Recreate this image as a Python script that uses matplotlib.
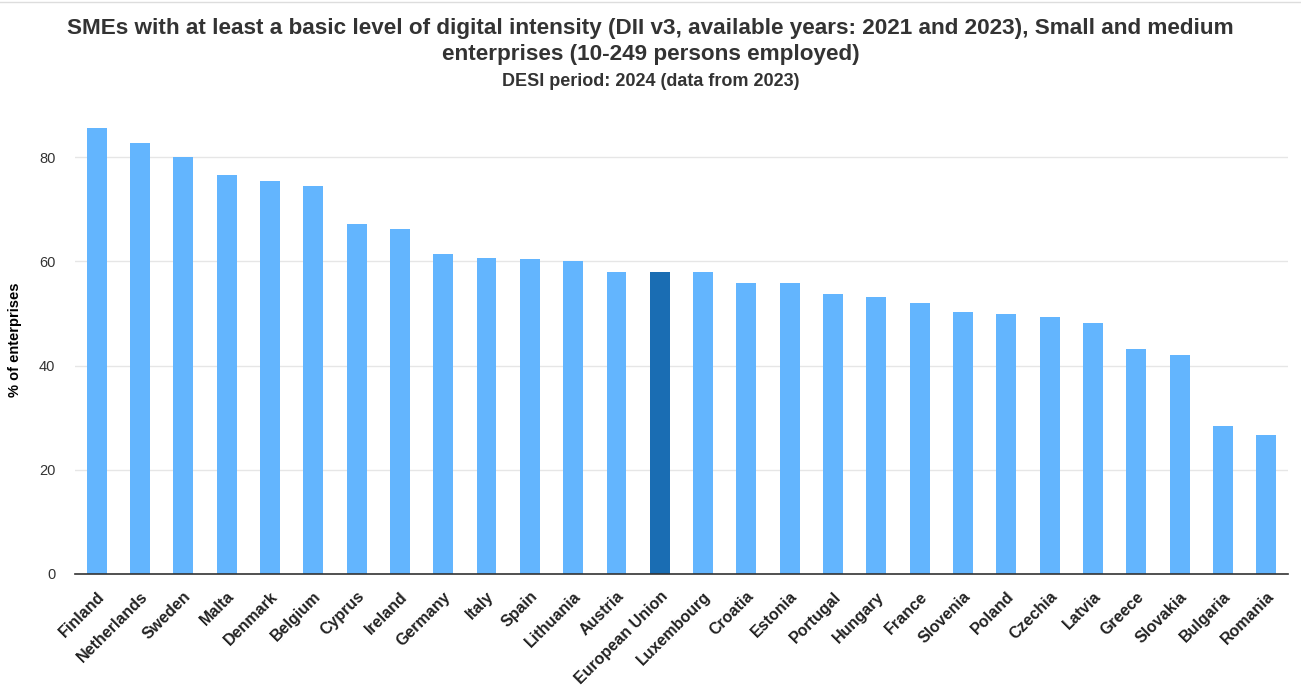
import numpy as np
import matplotlib
import matplotlib.pyplot as plt

matplotlib.rc("font", family=["Liberation Sans", "DejaVu Sans"])

countries = [
    "Finland", "Netherlands", "Sweden", "Malta", "Denmark", "Belgium",
    "Cyprus", "Ireland", "Germany", "Italy", "Spain", "Lithuania", "Austria",
    "European Union", "Luxembourg", "Croatia", "Estonia", "Portugal",
    "Hungary", "France", "Slovenia", "Poland", "Czechia", "Latvia", "Greece",
    "Slovakia", "Bulgaria", "Romania",
]
values = [
    85.6, 82.7, 80.0, 76.6, 75.5, 74.5, 67.3, 66.2, 61.4, 60.7, 60.4, 60.0,
    57.9, 57.9, 57.9, 55.9, 55.9, 53.7, 53.2, 52.1, 50.2, 50.0, 49.3, 48.2,
    43.2, 42.1, 28.4, 26.6,
]
highlight = "European Union"
y_ticks = [0, 20, 40, 60, 80]

light = "#63b5fe"
dark = "#1a6db3"
colors = [dark if c == highlight else light for c in countries]

fig = plt.figure(figsize=(13.01, 6.94), dpi=100)
ax = fig.add_axes([0.0576, 0.1736, 0.9324, 0.6744])

x = np.arange(len(countries))
ax.bar(x, values, width=0.46, color=colors, zorder=3)

ax.set_xlim(-0.5, len(countries) - 0.5)
ax.set_ylim(0, 90)
ax.set_yticks(y_ticks)
ax.set_yticklabels([str(t) for t in y_ticks], color="#333333", fontsize=10.5)
ax.grid(axis="y", color="#e6e6e6", linewidth=1, zorder=0)
ax.tick_params(axis="y", length=0, pad=14)

ax.set_xticks(x)
ax.set_xticklabels(countries, rotation=45, ha="right", rotation_mode="anchor",
                   fontsize=11.5, fontweight="bold", color="#222222")
ax.tick_params(axis="x", length=0, pad=11)

for side in ["top", "right", "left"]:
    ax.spines[side].set_visible(False)
ax.spines["bottom"].set_color("#333333")
ax.spines["bottom"].set_linewidth(1.2)
ax.spines["bottom"].set_zorder(4)

ax.set_ylabel("% of enterprises", fontsize=10.5, fontweight="bold")
ax.yaxis.set_label_coords(-0.044, 0.5)

fig.text(0.5, 0.959, "SMEs with at least a basic level of digital intensity (DII v3, available years: 2021 and 2023), Small and medium",
         ha="center", va="center", fontsize=16.2, fontweight="bold", color="#333333")
fig.text(0.5, 0.922, "enterprises (10-249 persons employed)",
         ha="center", va="center", fontsize=16.2, fontweight="bold", color="#333333")
fig.text(0.5, 0.882, "DESI period: 2024 (data from 2023)",
         ha="center", va="center", fontsize=13, fontweight="bold", color="#333333")

fig.add_artist(plt.Line2D([0, 1], [0.997, 0.997], color="#dddddd", linewidth=1))

plt.savefig("out.png", dpi=100)
